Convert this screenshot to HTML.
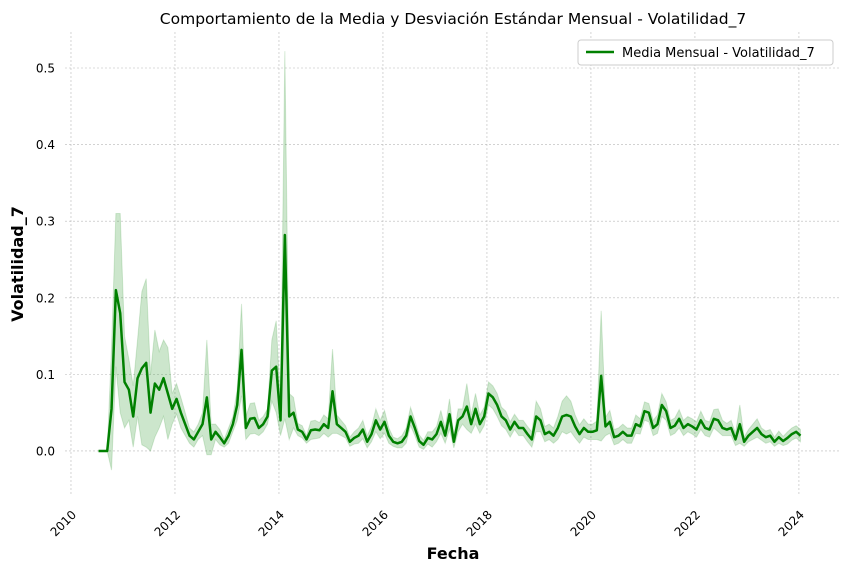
<!DOCTYPE html>
<html><head><meta charset="utf-8"><style>
body{margin:0;background:#fff;font-family:"Liberation Sans","DejaVu Sans",sans-serif}
</style></head><body>
<svg id="chart" width="850" height="572" xmlns="http://www.w3.org/2000/svg" font-family="DejaVu Sans, Liberation Sans, sans-serif">
<rect width="850" height="572" fill="#fff"/>
<text x="453" y="24" text-anchor="middle" font-size="15.5">Comportamiento de la Media y Desviación Estándar Mensual - Volatilidad_7</text>
<g id="grid"></g>
<g id="band"></g>
<g id="line"></g>
<g id="xticks"></g>
<g id="yticks"></g>
<text x="453" y="559" text-anchor="middle" font-size="16" font-weight="bold">Fecha</text>
<text transform="translate(23,264) rotate(-90)" text-anchor="middle" font-size="16" font-weight="bold">Volatilidad_7</text>
<g>
<rect x="578" y="40" width="255" height="25" fill="#fff" stroke="#ccc" rx="3"/>
<line x1="586" y1="52" x2="614" y2="52" stroke="#008000" stroke-width="2.5"/>
<text x="622" y="57" font-size="13">Media Mensual - Volatilidad_7</text>
</g>
</svg>
<script>
const startYear = 2010, startMonth = 7; // Aug 2010 (0-based month)
const meanValues = [
0,0,0,0.055,0.21,
0.18,0.09,0.08,0.045,0.095,0.108,0.115,0.05,0.088,0.08,0.095,0.075,
0.055,0.068,0.05,0.035,0.02,0.015,0.025,0.035,0.07,0.015,0.025,0.018,
0.01,0.02,0.035,0.06,0.132,0.03,0.042,0.043,0.03,0.035,0.045,0.105,
0.11,0.04,0.282,0.045,0.05,0.028,0.025,0.015,0.027,0.028,0.027,0.035,
0.03,0.078,0.035,0.03,0.025,0.012,0.017,0.02,0.028,0.012,0.022,0.04,
0.028,0.038,0.02,0.012,0.01,0.012,0.02,0.045,0.03,0.013,0.008,0.017,
0.015,0.022,0.038,0.02,0.048,0.012,0.04,0.045,0.058,0.035,0.055,0.035,
0.045,0.075,0.07,0.06,0.045,0.04,0.028,0.038,0.03,0.03,0.022,0.015,
0.045,0.04,0.022,0.025,0.02,0.03,0.045,0.047,0.045,0.032,0.022,0.03,
0.025,0.025,0.027,0.098,0.032,0.038,0.018,0.02,0.025,0.02,0.02,0.035,
0.032,0.052,0.05,0.03,0.035,0.06,0.052,0.03,0.033,0.042,0.03,0.035,
0.032,0.028,0.04,0.03,0.028,0.042,0.04,0.03,0.028,0.03,0.015,0.035,
0.012,0.02,0.025,0.03,0.022,0.018,0.02,0.012,0.018,0.013,0.017,0.022,
0.025,0.02];
const stdValues = [
0,0,0,0.08,0.1,
0.13,0.06,0.04,0.04,0.05,0.1,0.11,0.05,0.07,0.05,0.05,0.06,
0.02,0.02,0.02,0.015,0.01,0.01,0.01,0.015,0.075,0.02,0.01,0.01,
0.005,0.01,0.01,0.02,0.06,0.015,0.02,0.02,0.01,0.01,0.01,0.04,
0.06,0.02,0.24,0.03,0.02,0.008,0.008,0.005,0.012,0.012,0.01,0.012,
0.012,0.055,0.012,0.01,0.008,0.006,0.008,0.01,0.012,0.008,0.01,0.015,
0.012,0.015,0.01,0.006,0.006,0.008,0.01,0.012,0.01,0.008,0.006,0.008,
0.01,0.01,0.015,0.01,0.02,0.008,0.015,0.01,0.03,0.012,0.02,0.012,
0.012,0.015,0.015,0.015,0.012,0.012,0.01,0.01,0.01,0.01,0.01,0.01,
0.02,0.015,0.01,0.01,0.01,0.015,0.02,0.025,0.02,0.015,0.012,0.012,
0.01,0.01,0.012,0.085,0.012,0.015,0.01,0.01,0.01,0.01,0.01,0.012,
0.01,0.012,0.012,0.01,0.012,0.015,0.012,0.01,0.01,0.012,0.01,0.01,
0.01,0.01,0.012,0.01,0.01,0.012,0.015,0.01,0.008,0.01,0.008,0.025,
0.006,0.008,0.01,0.012,0.008,0.008,0.008,0.006,0.008,0.006,0.008,0.008,
0.008,0.008];
const xTickLabels = ["2010","2012","2014","2016","2018","2020","2022","2024"];
const yTickLabels = ["0.0","0.1","0.2","0.3","0.4","0.5"];

const NS="http://www.w3.org/2000/svg";
const L=65,R=840,T=32,B=495;
const xMin=2009.885, xMax=2024.79, yMin=-0.0575, yMax=0.547;
const xs=v=>L+(v-xMin)/(xMax-xMin)*(R-L);
const ys=v=>B-(v-yMin)/(yMax-yMin)*(B-T);
function mk(tag,attrs,parent){const e=document.createElementNS(NS,tag);for(const k in attrs)e.setAttribute(k,attrs[k]);parent.appendChild(e);return e;}
const grid=document.getElementById('grid'),xt=document.getElementById('xticks'),yt=document.getElementById('yticks');
xTickLabels.forEach(l=>{const x=xs(+l);
 const g=mk('line',{x1:x,x2:x,y1:T,y2:B,stroke:'#b8b8b8','stroke-width':0.6,'stroke-dasharray':'2,2'},grid);
 
 
 const t=mk('text',{x:x,y:B+18,'font-size':12,'text-anchor':'end',transform:`rotate(-45 ${x+6} ${B+12})`},xt);
 t.textContent=l;
 
 
});
yTickLabels.forEach(l=>{const y=ys(+l);
 const g=mk('line',{x1:L,x2:R,y1:y,y2:y,stroke:'#b8b8b8','stroke-width':0.6,'stroke-dasharray':'2,2'},grid);
 
 
 const t=mk('text',{x:L-10,y:y+4.5,'font-size':12,'text-anchor':'end'},yt);
 t.textContent=l;
 
 
});
const dates=meanValues.map((_,i)=>startYear+(startMonth+i)/12+1/24-0.095);
const up=meanValues.map((m,i)=>[xs(dates[i]),ys(m+stdValues[i])]);
const lo=meanValues.map((m,i)=>[xs(dates[i]),ys(m-stdValues[i])]).reverse();
const band=mk('path',{d:'M'+up.concat(lo).map(p=>p.join(',')).join('L')+'Z',fill:'#008000','fill-opacity':0.2,stroke:'#008000','stroke-opacity':0.15},document.getElementById('band'));


const line=mk('path',{d:'M'+meanValues.map((m,i)=>xs(dates[i])+','+ys(m)).join('L'),fill:'none',stroke:'#008000','stroke-width':2.5,'stroke-linejoin':'round'},document.getElementById('line'));


</script>
</body></html>
